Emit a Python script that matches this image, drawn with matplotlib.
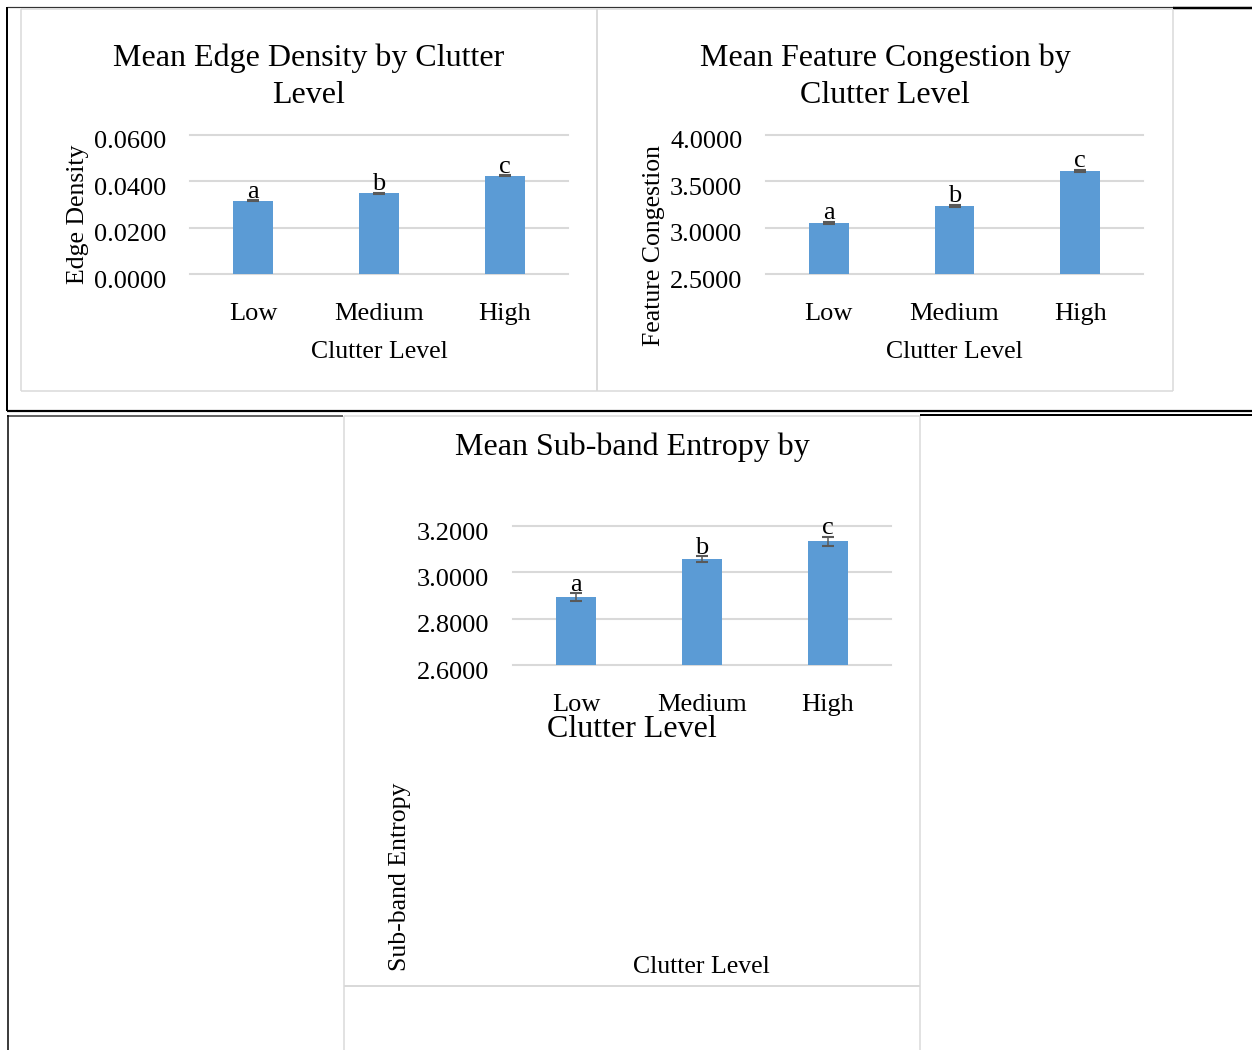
import matplotlib
matplotlib.use("Agg")
import matplotlib.pyplot as plt
from matplotlib.lines import Line2D
from matplotlib.transforms import ScaledTranslation

plt.rcParams["font.family"] = ["Liberation Serif", "DejaVu Serif"]

# ---- data ----
categories = ["Low", "Medium", "High"]
group_letters = ["a", "b", "c"]

edge_density = [0.0316, 0.0350, 0.0424]
edge_density_err = [0.0002, 0.0002, 0.0002]

feature_congestion = [3.053, 3.236, 3.613]
feature_congestion_err = [0.015, 0.010, 0.014]

subband_entropy = [2.893, 3.057, 3.134]
subband_entropy_err = [0.017, 0.012, 0.018]

edge_ticks = [0.0, 0.02, 0.04, 0.06]
congestion_ticks = [2.5, 3.0, 3.5, 4.0]
entropy_ticks = [2.6, 2.8, 3.0, 3.2]

# ---- styling ----
W, H = 1252, 1050
BAR_COLOR = "#5b9bd5"
GRID_COLOR = "#d9d9d9"
ERR_COLOR = "#595959"
FRAME_COLOR = "#d9d9d9"
TICK_FS = 19
LABEL_FS = 18.5
TITLE_FS = 23

fig = plt.figure(figsize=(W / 100, H / 100), dpi=100)

# full-figure overlay in pixel coordinates for page frames and free text
page = fig.add_axes([0, 0, 1, 1], zorder=0)
page.set_xlim(0, W)
page.set_ylim(H, 0)
page.axis("off")


def px_line(x0, y0, x1, y1, color, lw_px):
    page.add_line(Line2D([x0, x1], [y0, y1], color=color,
                         linewidth=lw_px * 0.72, solid_capstyle="butt"))


# document table borders
px_line(7, 7, 1173, 7, "#333333", 1.2)
px_line(1173, 8, W, 8, "black", 2.5)
px_line(7, 7, 7, 411, "black", 2.0)
px_line(7, 410.5, W, 410.5, "black", 2.2)
px_line(7, 415.5, 343, 415.5, "#333333", 1.5)
px_line(920, 415, W, 415, "black", 2.0)
px_line(7.5, 415, 7.5, H, "black", 1.5)

# chart area frames
for (x0, y0, x1, y1) in [(21, 9, 597, 391), (597, 9, 1173, 391)]:
    px_line(x0, y0, x1, y0, FRAME_COLOR, 1.5)
    px_line(x0, y1, x1, y1, FRAME_COLOR, 1.5)
    px_line(x0, y0, x0, y1, FRAME_COLOR, 1.5)
    px_line(x1, y0, x1, y1, FRAME_COLOR, 1.5)
px_line(344, 416, 344, H, FRAME_COLOR, 1.5)
px_line(920, 416, 920, H, FRAME_COLOR, 1.5)
px_line(344, 416, 920, 416, FRAME_COLOR, 1.5)
px_line(344, 986, 920, 986, FRAME_COLOR, 2.0)

# titles
page.text(309, 77, "Mean Edge Density by Clutter\nLevel", ha="center",
          va="center", fontsize=TITLE_FS, linespacing=1.36)
page.text(885, 77, "Mean Feature Congestion by\nClutter Level", ha="center",
          va="center", fontsize=TITLE_FS, linespacing=1.36)
page.text(632, 447, "Mean Sub-band Entropy by", ha="center", va="center",
          fontsize=TITLE_FS)
page.text(701, 967, "Clutter Level", ha="center", va="center",
          fontsize=LABEL_FS)


def make_axes(x_left, y_top, x_right, y_bottom):
    return fig.add_axes([x_left / W, 1 - y_bottom / H,
                         (x_right - x_left) / W, (y_bottom - y_top) / H],
                        zorder=1, facecolor="none")


def bar_chart(ax, values, errs, ticks, fmt, ylabel, ylabel_pos,
              xlabel_pos, xlabel_fs):
    x = list(range(len(categories)))
    ax.bar(x, values, width=0.315, color=BAR_COLOR, zorder=2)
    ax.errorbar(x, values, yerr=errs, fmt="none", ecolor=ERR_COLOR,
                elinewidth=1.1, capsize=4.5, capthick=1.5, zorder=3)
    ax.set_xlim(-0.5, len(categories) - 0.5)
    ax.set_ylim(ticks[0], ticks[-1])
    ax.set_yticks(ticks)
    ax.set_yticklabels([fmt.format(t) for t in ticks])
    ax.set_xticks(x)
    ax.set_xticklabels(categories)
    ax.tick_params(axis="y", length=0, pad=17, labelsize=TICK_FS)
    ax.tick_params(axis="x", length=0, pad=21, labelsize=TICK_FS)
    # value labels sit slightly below their gridlines
    shift = ScaledTranslation(0, -5 / 100, fig.dpi_scale_trans)
    for lab in ax.get_yticklabels():
        lab.set_transform(lab.get_transform() + shift)
    ax.grid(axis="y", color=GRID_COLOR, linewidth=1.5, zorder=0)
    ax.set_axisbelow(True)
    for gl in ax.get_ygridlines():
        gl.set_clip_on(False)
    for s in ax.spines.values():
        s.set_visible(False)
    for xi, v, e, letter in zip(x, values, errs, group_letters):
        ax.annotate(letter, (xi, v + e), xytext=(0, 2),
                    textcoords="offset points", ha="center", va="baseline",
                    fontsize=TICK_FS)
    ax.set_ylabel(ylabel, fontsize=LABEL_FS)
    ax.yaxis.set_label_coords(*ylabel_pos)
    ax.yaxis.label.set_va("center")
    ax.yaxis.label.set_ha("center")
    ax.set_xlabel("Clutter Level", fontsize=xlabel_fs)
    ax.xaxis.set_label_coords(*xlabel_pos)
    ax.xaxis.label.set_va("center")
    ax.xaxis.label.set_ha("center")


ax1 = make_axes(190, 135, 568, 274.3)
bar_chart(ax1, edge_density, edge_density_err, edge_ticks, "{:.4f}",
          "Edge Density", (-0.296, 0.433), (0.5, -0.56), LABEL_FS)

ax2 = make_axes(766, 135, 1143, 274.3)
bar_chart(ax2, feature_congestion, feature_congestion_err, congestion_ticks,
          "{:.4f}", "Feature Congestion", (-0.297, 0.207), (0.5, -0.56),
          LABEL_FS)

ax3 = make_axes(513, 526, 891, 665.3)
bar_chart(ax3, subband_entropy, subband_entropy_err, entropy_ticks, "{:.4f}",
          "Sub-band Entropy", (-0.299, -1.52), (0.315, -0.46), TITLE_FS)

fig.savefig("out.png", dpi=100, facecolor="white")
